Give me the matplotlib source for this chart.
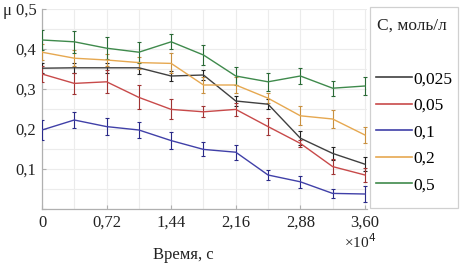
import matplotlib
matplotlib.use("Agg")
import matplotlib.pyplot as plt
from matplotlib.patches import Rectangle
from matplotlib.ticker import MultipleLocator

plt.rcParams['font.family'] = ['Liberation Serif', 'DejaVu Serif']

time = [0, 0.36, 0.72, 1.08, 1.44, 1.8, 2.16, 2.52, 2.88, 3.24, 3.6]  # x10^4 s

labels = ["0,025", "0,05", "0,1", "0,2", "0,5"]
mu_0025 = [0.352, 0.353, 0.353, 0.353, 0.3325, 0.335, 0.270, 0.262, 0.177, 0.139, 0.112]
mu_005 = [0.3375, 0.314, 0.318, 0.279, 0.249, 0.243, 0.249, 0.206, 0.164, 0.106, 0.085]
mu_01 = [0.1975, 0.2225, 0.206, 0.1975, 0.171, 0.149, 0.142, 0.085, 0.068, 0.039, 0.0375]
mu_02 = [0.392, 0.377, 0.3725, 0.366, 0.364, 0.310, 0.310, 0.277, 0.233, 0.225, 0.185]
mu_05 = [0.4225, 0.418, 0.402, 0.392, 0.418, 0.385, 0.3325, 0.318, 0.3325, 0.302, 0.3075]

err_0025 = [0.012, 0.012, 0.012, 0.015, 0.0125, 0.012, 0.012, 0.012, 0.017, 0.017, 0.0175]
err_005 = [0.02, 0.027, 0.029, 0.03, 0.025, 0.014, 0.017, 0.021, 0.008, 0.019, 0.017]
err_01 = [0.025, 0.021, 0.022, 0.02, 0.021, 0.0175, 0.019, 0.013, 0.015, 0.011, 0.021]
err_02 = [0.02, 0.02, 0.015, 0.015, 0.025, 0.02, 0.02, 0.012, 0.024, 0.023, 0.021]
err_05 = [0.026, 0.027, 0.0275, 0.026, 0.019, 0.024, 0.023, 0.023, 0.019, 0.019, 0.023]

xticks = [0, 0.72, 1.44, 2.16, 2.88, 3.60]
xticklabels = ["0", "0,72", "1,44", "2,16", "2,88", "3,60"]
yticks = [0, 0.1, 0.2, 0.3, 0.4, 0.5]
yticklabels = ["", "0,1", "0,2", "0,3", "0,4", "μ 0,5"]

series = [mu_0025, mu_005, mu_01, mu_02, mu_05]
errors = [err_0025, err_005, err_01, err_02, err_05]
colors = ["#404040", "#c84a4a", "#4040a8", "#e6a850", "#3f8a4c"]
ecolors = ["#222222", "#a03434", "#2a2a88", "#c89040", "#2a6a36"]

W, H = 461, 266
fig = plt.figure(figsize=(W / 100, H / 100), dpi=100)
ax = fig.add_axes([42 / W, 1 - 209 / H, (367 - 42) / W, (209 - 9) / H])

handles = []
for ys, es, c, ec, lab in zip(series, errors, colors, ecolors, labels):
    ax.errorbar(time, ys, yerr=es, color=c, ecolor=ec, elinewidth=0.8,
                capsize=1.6, capthick=0.8, lw=1.0, zorder=3)
    h, = ax.plot([], [], color=c, lw=1.2, label=lab)
    handles.append(h)

ax.set_xlim(0, 3.623)
ax.set_ylim(0, 0.5)
ax.set_xticks(xticks)
ax.set_xticklabels(xticklabels)
ax.set_yticks(yticks)
ax.set_yticklabels(yticklabels)
ax.xaxis.set_minor_locator(MultipleLocator(0.36))
ax.yaxis.set_minor_locator(MultipleLocator(0.05))
ax.grid(True, which='both', color="#ececec", lw=0.8, zorder=0)
ax.tick_params(axis='both', which='both', direction='in', length=3, color="#b0b0b0",
               labelsize=12, pad=4, labelcolor="#222222")
ax.tick_params(axis='both', which='minor', length=0)
for s in ['top', 'right']:
    ax.spines[s].set_visible(False)
for s in ['left', 'bottom']:
    ax.spines[s].set_color("#b0b0b0")
    ax.spines[s].set_linewidth(0.9)

fig.text(183 / W, 1 - 255 / H, "Время, с", ha='center', va='center', fontsize=12, color="#222222")
fig.text(360 / W, 1 - 242 / H, "×10$^4$", ha='center', va='center', fontsize=11, color="#222222")

# legend frame and title
fig.patches.append(Rectangle((370 / W, 1 - 208 / H), 88 / W, 201 / H, transform=fig.transFigure,
                             fill=False, edgecolor="#d0d0d0", lw=0.9))
fig.text(377 / W, 1 - 26 / H, "C, моль/л", ha='left', va='center', fontsize=12.5, color="#222222")
fig.legend(handles=handles, loc='upper left', bbox_to_anchor=(376 / W, 1 - 71 / H),
           frameon=False, fontsize=12.5, handlelength=2.1, handletextpad=0.05,
           labelspacing=0.6, borderpad=0, borderaxespad=0)

fig.savefig("out.png", dpi=100)
